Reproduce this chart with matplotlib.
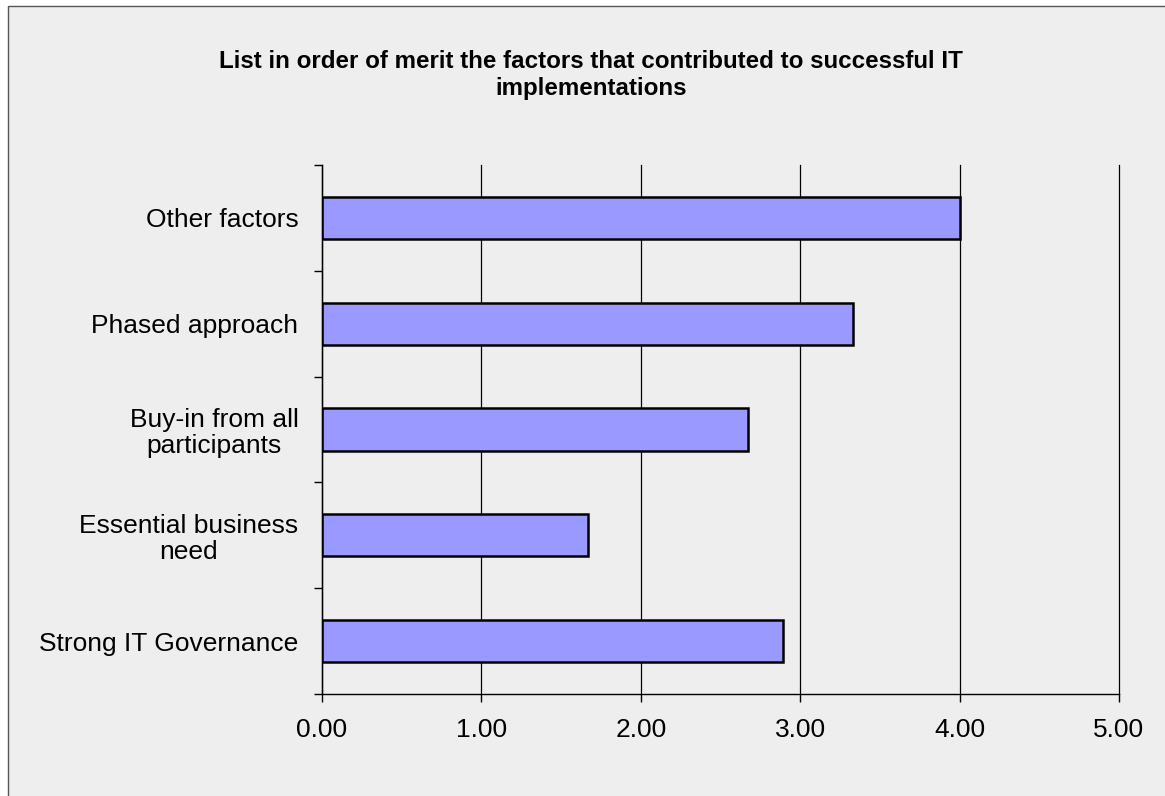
import matplotlib
matplotlib.use("Agg")
import matplotlib.pyplot as plt
from matplotlib.patches import Rectangle
from matplotlib.ticker import FixedLocator, FormatStrFormatter

# Categories listed bottom to top, as drawn on the y axis
categories = [
    "Strong IT Governance",
    "Essential business\nneed",
    "Buy-in from all\nparticipants",
    "Phased approach",
    "Other factors",
]
scores = [2.89, 1.67, 2.67, 3.33, 4.00]
x_ticks = [0, 1, 2, 3, 4, 5]
title = "List in order of merit the factors that contributed to successful IT\nimplementations"

W, H, DPI = 1165, 796, 100
plt.rcParams["font.family"] = ["Liberation Sans", "DejaVu Sans"]

fig = plt.figure(figsize=(W / DPI, H / DPI), dpi=DPI, facecolor="white")

# Grey chart area with a thin dark frame
frame = Rectangle((8 / W, -0.01), 1.1, 1 - 6 / H + 0.01, transform=fig.transFigure,
                  facecolor="#EEEEEE", edgecolor="#555555", linewidth=1.0, zorder=-10)
fig.patches.append(frame)

ax = fig.add_axes([322 / W, 1 - 694 / H, (1119 - 322) / W, (694 - 165) / H])
ax.set_facecolor("none")

ypos = list(range(len(categories)))
ax.barh(ypos, scores, height=0.4, color="#9999FF", edgecolor="black",
        linewidth=1.8, zorder=3)

ax.set_xlim(0, 5)
ax.set_ylim(-0.5, len(categories) - 0.5)

ax.xaxis.set_major_locator(FixedLocator(x_ticks))
ax.xaxis.set_major_formatter(FormatStrFormatter("%.2f"))
ax.tick_params(axis="x", direction="out", length=6, width=1, color="black",
               labelsize=19, pad=11)

ax.set_yticks(ypos)
ax.set_yticklabels(categories, multialignment="center", linespacing=1.1)
ax.tick_params(axis="y", which="major", length=0, labelsize=19, pad=17)
ax.yaxis.set_minor_locator(FixedLocator([i - 0.5 for i in range(len(categories) + 1)]))
ax.tick_params(axis="y", which="minor", direction="out", length=6, width=1, color="black")

ax.grid(axis="x", color="black", linewidth=0.9, zorder=1, clip_on=False)
ax.set_axisbelow(True)

for side in ("top", "right"):
    ax.spines[side].set_visible(False)
for side in ("left", "bottom"):
    ax.spines[side].set_color("black")
    ax.spines[side].set_linewidth(1.0)
    ax.spines[side].set_zorder(4)

fig.text(591 / W, 1 - 95 / H, title, ha="center", va="baseline", fontsize=17.4,
         fontweight="bold", linespacing=1.2, color="black")

fig.savefig("out.png", dpi=DPI, facecolor=fig.get_facecolor())
